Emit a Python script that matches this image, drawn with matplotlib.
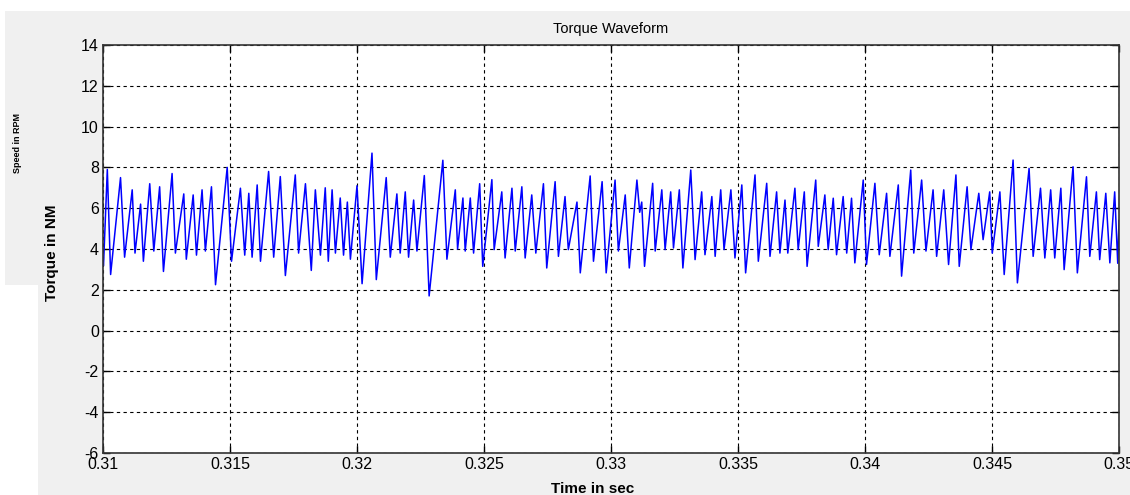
import matplotlib
matplotlib.use("Agg")
import matplotlib.pyplot as plt
from matplotlib.patches import Rectangle

# ---- data ----
time_s = [
    0.31002, 0.31017, 0.31030, 0.31069, 0.31085, 0.31115, 0.31126, 0.31148, 0.31159, 0.31184,
    0.31200, 0.31223, 0.31238, 0.31272, 0.31285, 0.31318, 0.31328, 0.31355, 0.31368, 0.31390,
    0.31403, 0.31427, 0.31443, 0.31489, 0.31506, 0.31541, 0.31558, 0.31574, 0.31587, 0.31607,
    0.31620, 0.31652, 0.31672, 0.31698, 0.31718, 0.31757, 0.31770, 0.31797, 0.31820, 0.31836,
    0.31856, 0.31875, 0.31887, 0.31902, 0.31915, 0.31934, 0.31947, 0.31962, 0.31974, 0.32000,
    0.32020, 0.32059, 0.32076, 0.32115, 0.32131, 0.32157, 0.32170, 0.32190, 0.32203, 0.32223,
    0.32236, 0.32265, 0.32284, 0.32338, 0.32354, 0.32387, 0.32396, 0.32417, 0.32426, 0.32446,
    0.32459, 0.32483, 0.32495, 0.32531, 0.32540, 0.32570, 0.32583, 0.32610, 0.32623, 0.32649,
    0.32662, 0.32688, 0.32704, 0.32734, 0.32747, 0.32780, 0.32793, 0.32819, 0.32832, 0.32866,
    0.32879, 0.32918, 0.32931, 0.32965, 0.32981, 0.33016, 0.33029, 0.33056, 0.33072, 0.33102,
    0.33113, 0.33121, 0.33132, 0.33164, 0.33174, 0.33200, 0.33213, 0.33235, 0.33246, 0.33269,
    0.33283, 0.33314, 0.33331, 0.33357, 0.33370, 0.33397, 0.33410, 0.33432, 0.33445, 0.33472,
    0.33488, 0.33515, 0.33530, 0.33567, 0.33580, 0.33613, 0.33626, 0.33652, 0.33665, 0.33685,
    0.33696, 0.33724, 0.33737, 0.33761, 0.33772, 0.33806, 0.33816, 0.33842, 0.33855, 0.33875,
    0.33888, 0.33914, 0.33928, 0.33947, 0.33960, 0.33993, 0.34006, 0.34039, 0.34056, 0.34085,
    0.34098, 0.34131, 0.34144, 0.34180, 0.34192, 0.34223, 0.34240, 0.34268, 0.34282, 0.34310,
    0.34329, 0.34358, 0.34371, 0.34402, 0.34417, 0.34448, 0.34465, 0.34491, 0.34501, 0.34531,
    0.34548, 0.34583, 0.34600, 0.34646, 0.34662, 0.34691, 0.34708, 0.34731, 0.34747, 0.34771,
    0.34784, 0.34819, 0.34836, 0.34872, 0.34885, 0.34911, 0.34924, 0.34948, 0.34964, 0.34983,
    0.34995, 0.35000,
]
torque_nm = [
    3.2, 7.9, 2.75, 7.5, 3.6, 6.9, 3.8, 6.2, 3.4, 7.2,
    3.9, 7.05, 2.9, 7.7, 3.8, 6.7, 3.5, 6.65, 3.7, 6.9,
    3.9, 7.05, 2.25, 8.0, 3.4, 6.98, 3.7, 6.73, 3.6, 7.14,
    3.4, 7.8, 3.6, 7.55, 2.7, 7.63, 3.8, 7.2, 2.95, 6.9,
    3.7, 7.0, 3.4, 6.9, 3.8, 6.5, 3.7, 6.3, 3.5, 7.1,
    2.3, 8.7, 2.5, 7.5, 3.6, 6.7, 3.8, 6.8, 3.6, 6.4,
    3.9, 7.6, 1.7, 8.35, 3.5, 6.9, 4.0, 6.5, 3.9, 6.5,
    3.8, 7.2, 3.15, 7.4, 3.97, 6.8, 3.56, 6.98, 3.9, 7.05,
    3.56, 6.65, 3.8, 7.2, 3.07, 7.3, 3.64, 6.57, 3.97, 6.3,
    2.83, 7.58, 3.4, 7.3, 2.83, 7.38, 3.9, 6.65, 3.07, 7.38,
    5.8, 6.3, 3.15, 7.22, 3.9, 6.9, 3.97, 6.8, 4.05, 6.9,
    3.07, 7.87, 3.48, 6.8, 3.72, 6.57, 3.64, 6.9, 3.97, 6.9,
    3.56, 7.14, 2.83, 7.63, 3.4, 7.22, 3.64, 6.8, 3.8, 6.4,
    3.8, 6.98, 3.97, 6.8, 3.15, 7.38, 4.13, 6.65, 3.97, 6.49,
    3.72, 6.57, 3.8, 6.49, 3.32, 7.38, 3.24, 7.22, 3.72, 6.73,
    3.64, 7.14, 2.67, 7.87, 3.8, 7.38, 3.9, 6.9, 3.64, 6.9,
    3.24, 7.63, 3.15, 7.05, 3.97, 6.73, 4.46, 6.8, 3.8, 6.8,
    2.75, 8.36, 2.34, 7.95, 3.64, 6.98, 3.56, 6.9, 3.56, 6.98,
    2.99, 8.03, 2.83, 7.54, 3.64, 6.8, 3.48, 6.73, 3.32, 6.8,
    3.3, 5.4,
]
x_ticks = [0.31, 0.315, 0.32, 0.325, 0.33, 0.335, 0.34, 0.345, 0.35]
x_tick_labels = ["0.31", "0.315", "0.32", "0.325", "0.33", "0.335", "0.34", "0.345", "0.35"]
y_ticks = [-6, -4, -2, 0, 2, 4, 6, 8, 10, 12, 14]
y_tick_labels = ["-6", "-4", "-2", "0", "2", "4", "6", "8", "10", "12", "14"]

plt.rcParams['font.family'] = ['Liberation Sans', 'DejaVu Sans']
plt.rcParams['axes.unicode_minus'] = False

W, H = 1130, 495
fig = plt.figure(figsize=(W / 100, H / 100), dpi=100)
fig.patch.set_facecolor('white')

gray = '#f0f0f0'
fig.patches.append(Rectangle((5 / W, 1 - 285 / H), 1 - 5 / W, (285 - 11) / H,
                             transform=fig.transFigure, facecolor=gray, edgecolor='none', zorder=-10))
fig.patches.append(Rectangle((38 / W, 0), 1 - 38 / W, 1 - 285 / H + 0.001,
                             transform=fig.transFigure, facecolor=gray, edgecolor='none', zorder=-10))

ax = fig.add_axes([103 / W, 1 - 453 / H, (1119 - 103) / W, (453 - 45) / H])
ax.set_facecolor('white')
ax.plot(time_s, torque_nm, color='#0000ff', lw=1.1)

ax.set_xlim(0.31, 0.35)
ax.set_ylim(-6, 14)
ax.set_xticks(x_ticks)
ax.set_xticklabels(x_tick_labels)
ax.set_yticks(y_ticks)
ax.set_yticklabels(y_tick_labels)
ax.tick_params(direction='in', length=5, width=1, top=True, right=True,
               labelsize=11.5, pad=3, colors='black')
ax.grid(True, color='black', linestyle=(0, (3, 3)), linewidth=0.8)
for s in ax.spines.values():
    s.set_color('#333333')
    s.set_linewidth(1.2)

ax.set_title('Torque Waveform', fontsize=10.5, pad=9)
ax.set_xlabel('Time in sec', fontsize=11, fontweight='bold')
ax.xaxis.set_label_coords((593 - 103) / 1016, -0.071)
ax.set_ylabel('Torque in NM', fontsize=11, fontweight='bold')
ax.yaxis.set_label_coords(-0.043, 0.49)

fig.text(18 / W, 1 - 143 / H, 'Speed in RPM', rotation=90, ha='center', va='center',
         fontsize=6.5, fontweight='bold', fontstretch='condensed')

fig.savefig('out.png', dpi=100, facecolor=fig.get_facecolor())
